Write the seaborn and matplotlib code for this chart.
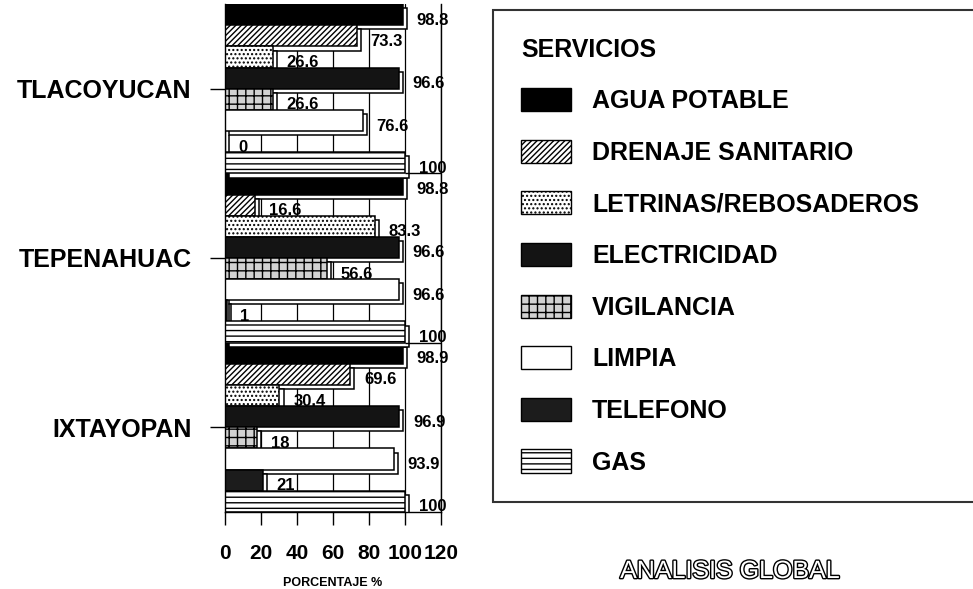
import pandas as pd
import matplotlib.pyplot as plt
import matplotlib.patheffects as pe
from matplotlib.patches import Patch
import seaborn as sns

# data
comunidades = ["TLACOYUCAN", "TEPENAHUAC", "IXTAYOPAN"]
servicios = ["AGUA POTABLE", "DRENAJE SANITARIO", "LETRINAS/REBOSADEROS", "ELECTRICIDAD",
             "VIGILANCIA", "LIMPIA", "TELEFONO", "GAS"]
agua_potable = [98.8, 98.8, 98.9]
drenaje_sanitario = [73.3, 16.6, 69.6]
letrinas = [26.6, 83.3, 30.4]
electricidad = [96.6, 96.6, 96.9]
vigilancia = [26.6, 56.6, 18]
limpia = [76.6, 96.6, 93.9]
telefono = [0, 1, 21]
gas = [100, 100, 100]
x_ticks = [0, 20, 40, 60, 80, 100, 120]

# fill / hatch per service
colores = ["black", "white", "white", "#141414", "#d2d2d2", "white", "#1c1c1c", "white"]
tramas = [None, "//////", "....", None, "++", None, None, "---"]

valores = [agua_potable, drenaje_sanitario, letrinas, electricidad,
           vigilancia, limpia, telefono, gas]
rows = []
for s, vals in zip(servicios, valores):
    for c, v in zip(comunidades, vals):
        rows.append({"Comunidad": c, "Servicio": s, "Valor": v})
df = pd.DataFrame(rows)

sns.set_theme(style="white")
plt.rcParams["font.family"] = ["Liberation Sans", "DejaVu Sans"]
plt.rcParams["hatch.linewidth"] = 1.0
for k in ["text.color", "axes.labelcolor", "xtick.color", "ytick.color"]:
    plt.rcParams[k] = "black"

fig = plt.figure(figsize=(9.73, 5.89), dpi=100)
ax = fig.add_axes([0.231, 0.131, 0.222, 0.862])

ax.grid(axis="x", color="black", linewidth=0.9)
ax.set_axisbelow(True)

sns.barplot(data=df, x="Valor", y="Comunidad", hue="Servicio", orient="h",
            order=comunidades, hue_order=servicios, palette=colores, saturation=1,
            width=1.0, gap=0, errorbar=None, edgecolor="black", linewidth=1.1,
            legend=False, ax=ax)

# 3D look: white offset face behind each bar, plus hatches
sombra = [pe.PathPatchEffect(offset=(3, -3), facecolor="white", edgecolor="black", linewidth=1.1),
          pe.Normal()]
for cont, trama in zip(ax.containers, tramas):
    for bar in cont.patches:
        bar.set_path_effects(sombra)
        if trama:
            bar.set_hatch(trama)
        v = bar.get_width()
        ax.annotate(f"{v:g}", xy=(v, bar.get_y() + bar.get_height() / 2),
                    xytext=(10, -4), textcoords="offset points",
                    ha="left", va="center", fontsize=12, fontweight="bold")

# separators between groups on the right side
for i in range(len(comunidades) - 1):
    ax.hlines(i + 0.5, 100, 120, color="black", linewidth=1)

ax.set_xlim(0, 120)
ax.set_ylim(len(comunidades) - 0.5, -0.5)
ax.set_xticks(x_ticks)
ax.set_xticklabels([str(t) for t in x_ticks], fontsize=15, fontweight="bold")
ax.set_yticks(range(len(comunidades)))
ax.set_yticklabels(comunidades, fontsize=18, fontweight="bold")
ax.tick_params(axis="x", direction="out", length=9, width=1, pad=14, bottom=True)
ax.tick_params(axis="y", direction="out", length=11, width=1, pad=13, left=True)
ax.set_xlabel("PORCENTAJE %", fontsize=9, fontweight="bold", labelpad=10)
ax.set_ylabel("")
for side in ["left", "right", "bottom"]:
    ax.spines[side].set_color("black")
    ax.spines[side].set_linewidth(1)
ax.spines["top"].set_visible(False)

handles = [Patch(facecolor=c, edgecolor="black", hatch=h, linewidth=1) for c, h in zip(colores, tramas)]
leg = fig.legend(handles, servicios, loc="upper left",
                 bbox_to_anchor=(0.507, 0.02, 0.55, 0.963), bbox_transform=fig.transFigure,
                 mode="expand", frameon=True, fancybox=False, title="SERVICIOS",
                 title_fontproperties={"weight": "bold", "size": 18}, alignment="left",
                 prop={"weight": "bold", "size": 18}, handlelength=2.0, handleheight=1.05,
                 labelspacing=1.06, borderpad=1.1, borderaxespad=0, handletextpad=0.85)
leg.get_frame().set_edgecolor("black")
leg.get_frame().set_linewidth(1.5)

fig.text(0.75, 1 - 571 / 589, "ANALISIS GLOBAL", ha="center", va="center", fontsize=18,
         color="white", path_effects=[pe.withStroke(linewidth=2.0, foreground="black")])

plt.savefig("out.png", dpi=100)
